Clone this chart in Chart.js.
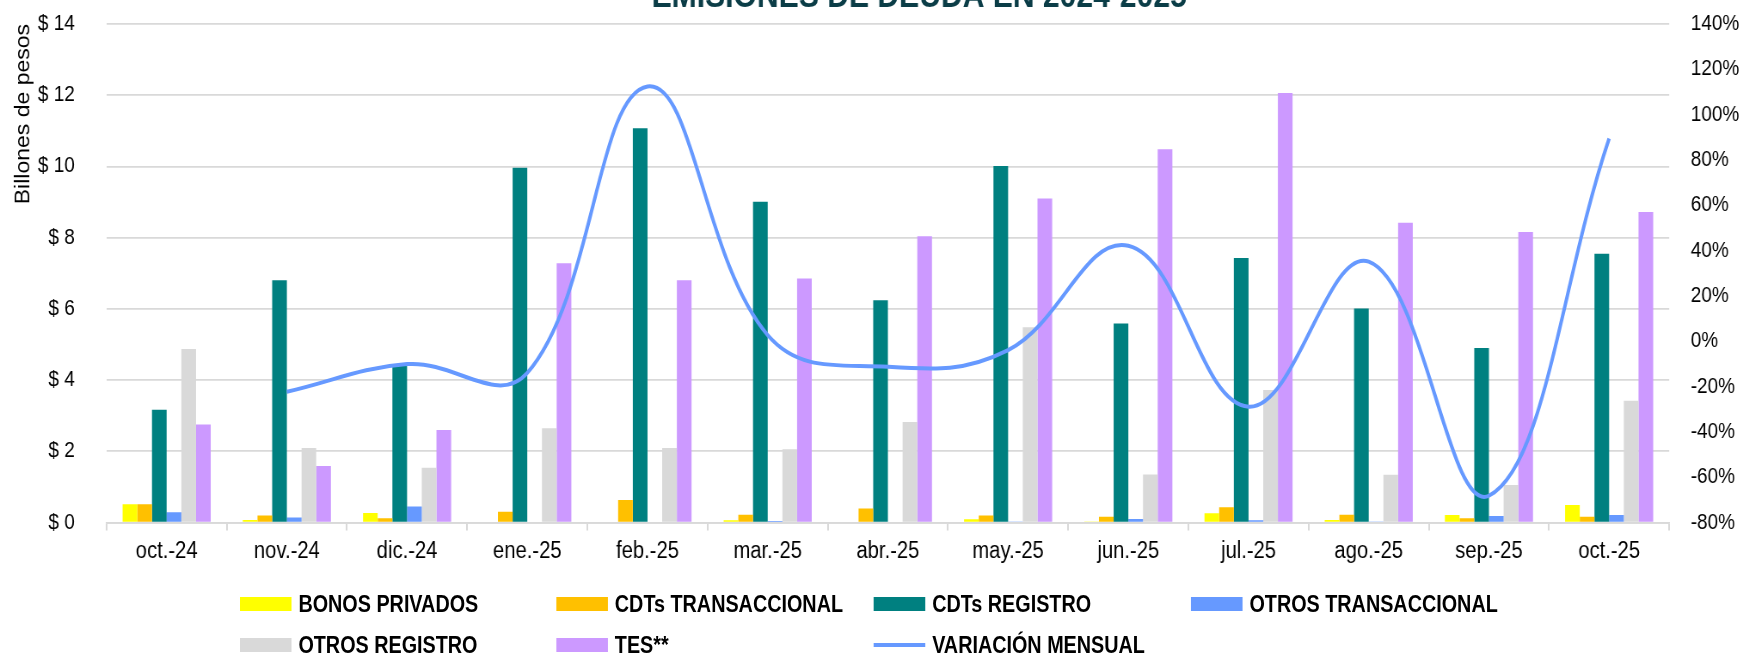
<!DOCTYPE html>
<html>
<head>
<meta charset="utf-8">
<script src="https://cdn.jsdelivr.net/npm/chart.js@4.4.1/dist/chart.umd.min.js"></script>
<style>
  html, body { margin: 0; padding: 0; background: #fff; overflow: hidden; }
  /* the source picture is horizontally squeezed, so draw wide and scale down */
  #wrap { position: absolute; left: 0; top: 0; width: 2027px; height: 659px; transform: scaleX(0.8599); transform-origin: 0 0; }
  #box { position: absolute; left: 0; top: 0; width: 2027px; height: 659px; }
  .leg { position: absolute; display: flex; align-items: center; height: 30px; margin-top: -15px;
         font: bold 23px "Liberation Sans", Arial, sans-serif; color: #000; white-space: nowrap; }
  .leg i { display: block; width: 60px; height: 14px; margin-right: 8px; }
  .leg i.line { height: 4px; margin-top: 0; }
</style>
</head>
<body>
<div id="wrap">
  <div id="box"><canvas id="chart"></canvas></div>
  <div id="legend"></div>
</div>
<script>
const chartTitle = 'EMISIONES DE DEUDA EN 2024-2025';
const categories = ['oct.-24', 'nov.-24', 'dic.-24', 'ene.-25', 'feb.-25', 'mar.-25', 'abr.-25',
                    'may.-25', 'jun.-25', 'jul.-25', 'ago.-25', 'sep.-25', 'oct.-25'];

// billones de pesos
const bonosPrivados      = [0.51, 0.07, 0.27, 0,    0,     0.06, 0.02, 0.09,  0.03,  0.26,  0.07, 0.21, 0.49];
const cdtsTransaccional  = [0.51, 0.20, 0.12, 0.30, 0.63,  0.22, 0.39, 0.20,  0.16,  0.43,  0.22, 0.12, 0.16];
const cdtsRegistro       = [3.17, 6.80, 4.42, 9.96, 11.07, 9.01, 6.24, 10.01, 5.59,  7.43,  6.01, 4.90, 7.55];
const otrosTransaccional = [0.29, 0.14, 0.45, 0,    0.02,  0.04, 0,    0.03,  0.10,  0.06,  0.03, 0.18, 0.21];
const otrosRegistro      = [4.87, 2.09, 1.54, 2.65, 2.09,  2.06, 2.82, 5.48,  1.35,  3.72,  1.34, 1.05, 3.42];
const tes                = [2.75, 1.59, 2.60, 7.28, 6.80,  6.85, 8.04, 9.10,  10.48, 12.06, 8.42, 8.16, 8.72];

// % variación mensual (eje derecho)
const variacionMensual = [null, -22.3, -10.1, -14.0, 112.4, 2.7, -11.3, -3.9, 42.1, -28.9, 35.1, -68.2, 89.5];

const leftTicks = { min: 0, max: 14, step: 2 };
const rightTicks = { min: -80, max: 140, step: 20 };

Chart.defaults.font.family = '"Liberation Sans", Arial, sans-serif';
Chart.defaults.color = '#000';

function bar(label, data, color) {
    return { type: 'bar', label: label, data: data, backgroundColor: color, borderWidth: 0,
             yAxisID: 'y', order: 1, categoryPercentage: 0.733, barPercentage: 1.0 };
}

const titlePlugin = {
    id: 'cutTitle',
    afterDraw(chart) {
        const ctx = chart.ctx;
        ctx.save();
        ctx.font = 'bold 35px "Liberation Sans", Arial, sans-serif';
        ctx.fillStyle = '#0b3d47';
        ctx.textAlign = 'center';
        ctx.textBaseline = 'alphabetic';
        ctx.fillText(chartTitle, 1069, 7);
        ctx.restore();
    }
};

const chart = new Chart(document.getElementById('chart'), {
    data: {
        labels: categories,
        datasets: [
            bar('BONOS PRIVADOS', bonosPrivados, '#FFFF00'),
            bar('CDTs TRANSACCIONAL', cdtsTransaccional, '#FFC000'),
            bar('CDTs REGISTRO', cdtsRegistro, '#008080'),
            bar('OTROS TRANSACCIONAL', otrosTransaccional, '#6699FF'),
            bar('OTROS REGISTRO', otrosRegistro, '#D9D9D9'),
            bar('TES**', tes, '#CC99FF'),
            {
                type: 'line', label: 'VARIACIÓN MENSUAL', data: variacionMensual,
                borderColor: '#6699FF', backgroundColor: '#6699FF', borderWidth: 4,
                pointRadius: 0, tension: 0.4, yAxisID: 'y1', order: 0
            }
        ]
    },
    options: {
        responsive: true,
        maintainAspectRatio: false,
        animation: false,
        layout: { padding: { top: 24, bottom: 86.5, left: 0, right: 0 } },
        plugins: {
            legend: { display: false },
            title: { display: false },
            tooltip: { enabled: false }
        },
        scales: {
            x: {
                offset: true,
                grid: { offset: true, drawOnChartArea: false, drawTicks: true, tickLength: 8, color: '#D9D9D9', lineWidth: 2 },
                border: { display: true, color: '#D9D9D9', width: 1.75 },
                ticks: { font: { size: 23.5 }, padding: 7, maxRotation: 0, autoSkip: false },
                afterFit: s => { s.height = 50; }
            },
            y: {
                position: 'left',
                min: leftTicks.min, max: leftTicks.max,
                ticks: { stepSize: leftTicks.step, font: { size: 22 }, padding: 8,
                         callback: v => '$ ' + v },
                // invisible tick marks keep the labels away from the plot
                grid: { color: '#D9D9D9', lineWidth: 1.75, drawTicks: true, tickLength: 29, tickColor: 'rgba(0,0,0,0)' },
                border: { display: false },
                title: { display: true, text: 'Billones de pesos', align: 'end',
                         font: { size: 23 }, padding: { top: 14, bottom: 0 } },
                afterFit: s => { s.width = 123.9; }
            },
            y1: {
                position: 'right',
                min: rightTicks.min, max: rightTicks.max,
                ticks: { stepSize: rightTicks.step, font: { size: 22 }, padding: 8,
                         callback: v => v + '%' },
                grid: { drawOnChartArea: false, drawTicks: true, tickLength: 17, tickColor: 'rgba(0,0,0,0)' },
                border: { display: false },
                afterFit: s => { s.width = 85.8; }
            }
        }
    },
    plugins: [titlePlugin]
});

// legend laid out as a grid, four columns
const legCols = [279, 647, 1016, 1385];
const legRows = [604, 645];
const legend = document.getElementById('legend');
chart.data.datasets.forEach((ds, i) => {
    const el = document.createElement('div');
    el.className = 'leg';
    el.style.left = legCols[i % 4] + 'px';
    el.style.top = legRows[Math.floor(i / 4)] + 'px';
    const sw = document.createElement('i');
    if (ds.type === 'line') sw.className = 'line';
    sw.style.background = ds.type === 'line' ? ds.borderColor : ds.backgroundColor;
    const tx = document.createElement('span');
    tx.textContent = ds.label;
    el.appendChild(sw);
    el.appendChild(tx);
    legend.appendChild(el);
});
</script>
</body>
</html>
